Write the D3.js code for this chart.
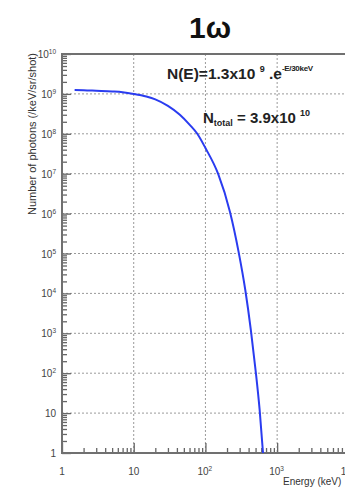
<!DOCTYPE html>
<html>
<head>
<meta charset="utf-8">
<script src="https://cdn.jsdelivr.net/npm/d3@7"></script>
<style>
  html, body { margin: 0; padding: 0; background: #fff; }
  svg { display: block; overflow: hidden; }
  text { font-family: "Liberation Sans", Arial, sans-serif; }
</style>
</head>
<body>
<div id="chart"></div>
<script>
// values (energy in keV, photons /keV/sr/shot)
var energy  = [1.5, 2, 3, 5, 7, 10, 15, 20, 30, 44, 60, 77, 100, 150, 220, 290, 360, 430, 500, 570, 635];
var photons = [1.25e9, 1.24e9, 1.2e9, 1.15e9, 1.1e9, 1.0e9, 8.6e8, 7.3e8, 5.0e8, 3.0e8, 1.7e8, 1.0e8,
               4.4e7, 1.0e7, 1.1e6, 1.1e5, 1.2e4, 1.2e3, 1.2e2, 12, 1];
var xMajor = [0, 1, 2, 3, 4];            // exponents of 10 for x tick labels
var yMajor = [0, 1, 2, 3, 4, 5, 6, 7, 8, 9, 10];

var W = 345, H = 487;
var svg = d3.select("#chart").append("svg").attr("width", W).attr("height", H);

var pLeft = 62, pTop = 54, pBottom = 453, pRight = 399;
var x = d3.scaleLog().domain([1, 50000]).range([pLeft, pRight]);
var y = d3.scaleLog().domain([1, 1e10]).range([pBottom, pTop]);

function minors(lo, hi) {
  var out = [];
  for (var e = lo; e < hi; e++)
    for (var k = 2; k <= 9; k++) out.push(k * Math.pow(10, e));
  return out;
}

// grid
var grid = svg.append("g").attr("stroke", "#9a9a9a").attr("stroke-dasharray", "2,2").attr("stroke-width", 1);
xMajor.slice(1).forEach(function (e) {
  grid.append("line").attr("x1", x(Math.pow(10, e))).attr("x2", x(Math.pow(10, e)))
    .attr("y1", pTop).attr("y2", pBottom);
});
yMajor.slice(1, -1).forEach(function (e) {
  grid.append("line").attr("y1", y(Math.pow(10, e))).attr("y2", y(Math.pow(10, e)))
    .attr("x1", pLeft).attr("x2", pRight);
});

// axes (ticks drawn inside the frame)
var yAx = svg.append("g").attr("transform", "translate(" + pLeft + ",0)");
yAx.call(d3.axisRight(y).tickValues(yMajor.map(function (e) { return Math.pow(10, e); }))
  .tickSize(9).tickFormat(""));
yAx.append("g").call(d3.axisRight(y).tickValues(minors(0, 10)).tickSize(5).tickFormat(""));

var xAx = svg.append("g").attr("transform", "translate(0," + pBottom + ")");
xAx.call(d3.axisTop(x).tickValues(xMajor.map(function (e) { return Math.pow(10, e); }))
  .tickSize(10).tickFormat(""));
xAx.append("g").call(d3.axisTop(x).tickValues(minors(0, 4)).tickSize(5).tickFormat(""));

svg.selectAll(".domain").remove();
svg.selectAll(".tick line").attr("stroke", "#666").attr("stroke-width", 1.3);

// frame
svg.append("rect").attr("x", pLeft).attr("y", pTop).attr("width", pRight - pLeft).attr("height", pBottom - pTop)
  .attr("fill", "none").attr("stroke", "#707070").attr("stroke-width", 2);

// tick labels
function powLabel(g, e, xp, yp, anchor) {
  var t = g.append("text").attr("x", xp).attr("y", yp).attr("text-anchor", anchor)
    .attr("font-size", 10).attr("fill", "#444");
  if (e === 0) t.text("1");
  else if (e === 1) t.text("10");
  else {
    t.append("tspan").text("10");
    t.append("tspan").attr("dy", -4).attr("font-size", 6.5).text(e);
  }
  return t;
}
var labs = svg.append("g");
yMajor.forEach(function (e) {
  powLabel(labs, e, pLeft - 6, y(Math.pow(10, e)) + 4, "end");
});
xMajor.forEach(function (e) {
  var t = powLabel(labs, e, x(Math.pow(10, e)), pBottom + 22, e >= 2 ? "start" : "middle");
  if (e >= 2) t.attr("x", x(Math.pow(10, e)) - 8);
});

// axis titles
svg.append("text").attr("transform", "translate(36,53) rotate(-90)").attr("text-anchor", "end")
  .attr("font-size", 11).attr("fill", "#333").text("Number of photons (/keV/sr/shot)");
svg.append("text").attr("x", 283).attr("y", 485).attr("font-size", 10).attr("fill", "#333")
  .text("Energy (keV)");

// curve
var line = d3.line().x(function (d, i) { return x(energy[i]); }).y(function (d) { return y(d); })
  .curve(d3.curveMonotoneX);
svg.append("path").datum(photons).attr("d", line).attr("fill", "none")
  .attr("stroke", "#2a3cf0").attr("stroke-width", 2);

// title
svg.append("text").attr("x", 210).attr("y", 38).attr("text-anchor", "middle")
  .attr("font-size", 30).attr("font-weight", "bold").attr("fill", "#111").text("1ω");

// annotations
var a1 = svg.append("text").attr("x", 167).attr("y", 79).attr("font-size", 15.5)
  .attr("font-weight", "bold").attr("fill", "#222");
a1.append("tspan").text("N(E)=1.3x10 ");
a1.append("tspan").attr("dy", -7).attr("font-size", 9).text("9");
a1.append("tspan").attr("dy", 7).text(" .e");
a1.append("tspan").attr("dy", -8).attr("font-size", 8).attr("letter-spacing", -0.3).text("-E/30keV");

var a2 = svg.append("text").attr("x", 203).attr("y", 123).attr("font-size", 15)
  .attr("font-weight", "bold").attr("fill", "#222");
a2.append("tspan").text("N");
a2.append("tspan").attr("dy", 3).attr("font-size", 9).text("total");
a2.append("tspan").attr("dy", -3).text(" = 3.9x10 ");
a2.append("tspan").attr("dy", -7).attr("font-size", 9).text("10");
</script>
</body>
</html>
